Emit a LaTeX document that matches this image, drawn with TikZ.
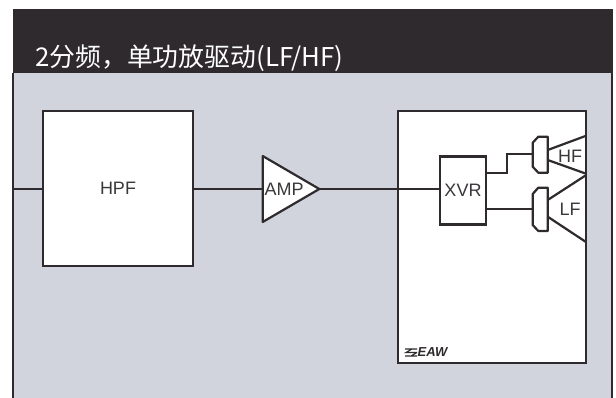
\documentclass[tikz,border=0pt]{standalone}
\usepackage{fontspec}
\setmainfont{Liberation Sans}
\newfontfamily\cjkfont{Noto Sans CJK SC}
\definecolor{ink}{HTML}{2E2A2D}
\definecolor{panelgrey}{HTML}{D1D4DC}
\definecolor{labelgrey}{HTML}{3A383A}
\tikzset{
  x=1pt,y=-1pt,
  wire/.style={draw=ink,line width=2.2pt},
  blockbox/.style={draw=ink,line width=2.6pt,fill=white,inner sep=0pt,font=\fontsize{18}{20}\selectfont,text=labelgrey},
  part/.style={draw=ink,line width=2.2pt,line join=round,fill=white},
  tag/.style={inner sep=0pt,font=\fontsize{18}{20}\selectfont,text=labelgrey}
}
\begin{document}
\begin{tikzpicture}
\useasboundingbox (0,0) rectangle (616,398);
% panel
\fill[panelgrey] (13,73) rectangle (612,398);
\fill[ink] (12.5,9.5) rectangle (612.5,73);
\draw[ink,line width=1.8pt] (13,73) -- (13,398);
\draw[ink,line width=1.8pt] (612,73) -- (612,398);
\node[anchor=base west,inner sep=0pt,text=white,font=\cjkfont\fontsize{25.85}{28}\selectfont] (title) at (35,67) {2分频，单功放驱动(LF/HF)};
% blocks
\coordinate (inl) at (13,189);
\node[blockbox,minimum width=150,minimum height=155] (hpf) at (118,188.5) {HPF};
\node[blockbox,minimum width=188,minimum height=252] (cab) at (492,237) {};
\node[blockbox,minimum width=46,minimum height=68] (xvr) at (463,190.5) {XVR};
\path[part] (262.7,156) coordinate (ampt) -- (319.3,189) coordinate (ampo) -- (262.7,222) coordinate (ampb) -- cycle;
\coordinate (ampi) at (262.7,189);
\node[tag,anchor=west] (amp) at (264.5,189.5) {AMP};
% wires
\draw[wire] (inl) -- (hpf.west |- inl);
\draw[wire] (hpf.east |- ampi) -- (ampi);
\draw[wire] (ampo) -- (xvr.west |- ampo);
% HF
\coordinate (hfin) at (532.7,154);
\coordinate (lfin) at (532.7,208.7);
\draw[wire] (xvr.east |- 0,172.7) -| (506.7,154) -- (hfin);
\draw[wire] (xvr.east |- lfin) -- (lfin);
\path[part] (532.7,142.7) -- (538.3,136.7) -- (547.7,136.7) -- (547.7,172.7) -- (538.3,172.7) -- (532.7,166.7) -- cycle;
\draw[wire] (547.7,150) -- (585.5,136);
\draw[wire] (547.7,160) -- (585.5,173.5);
\path[part] (532.7,194) -- (538.3,187.7) -- (547.7,187.7) -- (547.7,231) -- (538.3,231) -- (532.7,225) -- cycle;
\draw[wire] (547.7,200) -- (585.5,175.5);
\draw[wire] (547.7,216.7) -- (585.5,241.7);
\node[tag] (hf) at (570,156) {HF};
\node[tag] (lf) at (570,209) {LF};
% logo
\draw[ink,line width=1.1pt] (405,349) -- (417,349) (412,349) -- (406,352.5) -- (417,352.5) (417,352.5) -- (411,356) -- (417,356) (405,356) -- (410,356);
\node[anchor=west,inner sep=0pt,text=ink,font=\bfseries\itshape\fontsize{13}{14}\selectfont] (logo) at (417.5,352.5) {EAW};
\end{tikzpicture}
\end{document}
